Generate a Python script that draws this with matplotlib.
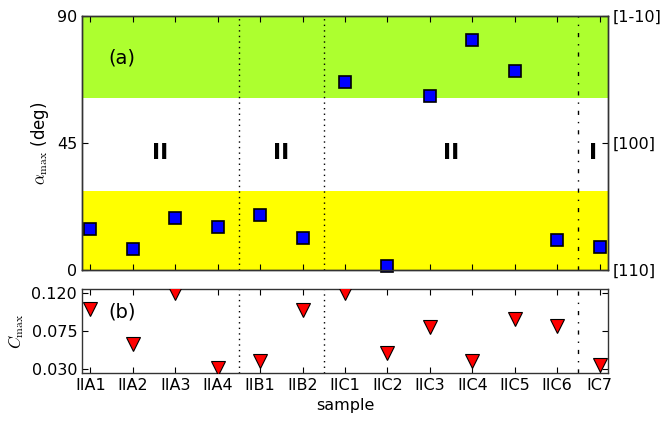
import matplotlib
matplotlib.use('Agg')
import matplotlib.pyplot as plt

plt.rcParams['mathtext.fontset'] = 'cm'
plt.rcParams['font.size'] = 11.5
plt.rcParams['xtick.direction'] = 'in'
plt.rcParams['ytick.direction'] = 'in'

samples = ['IIA1', 'IIA2', 'IIA3', 'IIA4', 'IIB1', 'IIB2', 'IIC1',
           'IIC2', 'IIC3', 'IIC4', 'IIC5', 'IIC6', 'IC7']
alpha_max = [14.4, 7.3, 18.3, 15.3, 19.5, 11.4, 66.5, 1.4, 61.5, 81.6, 70.6, 10.6, 8.3]
c_max = [0.101, 0.060, 0.120, 0.031, 0.0395, 0.0997, 0.1195, 0.0495,
         0.0797, 0.040, 0.0897, 0.081, 0.035]
group_bounds = [3.5, 5.5]
type_bound = 11.5
group_labels = ['II', 'II', 'II', 'I']
group_label_x = [1.65, 4.5, 8.5, 11.85]
right_ticks = [0, 45, 90]
right_labels = ['[110]', '[100]', '[1-10]']

x = list(range(len(samples)))
xlim = (-0.2, 12.2)
dotted = (0, (1, 3))
dashdot = (0, (3, 5, 1, 5))

fig = plt.figure(figsize=(6.64, 4.21), dpi=100)
ax1 = fig.add_axes([0.1235, 0.3587, 0.7922, 0.6033])
ax2 = fig.add_axes([0.1235, 0.114, 0.7922, 0.1995])

# panel (a)
ax1.axhspan(61, 90, color='#adff2f', lw=0)
ax1.axhspan(0, 28, color='#ffff00', lw=0)
ax1.plot(x, alpha_max, 's', color='#0000ff', mec='black', mew=1.2, ms=8,
         zorder=5, clip_on=False)
for b in group_bounds:
    ax1.axvline(b, color='black', ls=dotted, lw=1)
ax1.axvline(type_bound, color='black', ls=dashdot, lw=1)
for lx, lab in zip(group_label_x, group_labels):
    ax1.text(lx, 41.5, lab, ha='center', va='center', fontsize=16,
             fontweight='bold')
ax1.text(0.41, 75, '(a)', ha='left', va='center', fontsize=14)
ax1.set_xlim(xlim)
ax1.set_ylim(0, 90)
ax1.set_yticks([0, 45, 90])
ax1.set_xticks(x)
ax1.set_xticklabels([])
ax1.tick_params(top=True, right=False, length=4)
ax1.set_ylabel(r'$\alpha_{\rm max}$ (deg)', fontsize=12)

ax1r = ax1.twinx()
ax1r.set_ylim(0, 90)
ax1r.set_yticks(right_ticks)
ax1r.set_yticklabels(right_labels)
ax1r.tick_params(direction='in', length=4)

# panel (b)
ax2.plot(x, c_max, 'v', color='#ff0000', mec='black', mew=0.8, ms=10,
         zorder=5)
for b in group_bounds:
    ax2.axvline(b, color='black', ls=dotted, lw=1)
ax2.axvline(type_bound, color='black', ls=dashdot, lw=1)
ax2.text(0.41, 0.0977, '(b)', ha='left', va='center', fontsize=14)
ax2.set_xlim(xlim)
ax2.set_ylim(0.0255, 0.1245)
ax2.set_yticks([0.030, 0.075, 0.120])
ax2.set_yticklabels(['0.030', '0.075', '0.120'])
ax2.set_xticks(x)
ax2.set_xticklabels(samples)
ax2.tick_params(top=True, right=True, length=4)
ax2.set_ylabel(r'$C_{\rm max}$', fontsize=12)
ax2.set_xlabel('sample')

for ax in (ax1, ax1r, ax2):
    for s in ax.spines.values():
        s.set_color('#333333')
        s.set_linewidth(1)

fig.savefig('out.png', dpi=100)
